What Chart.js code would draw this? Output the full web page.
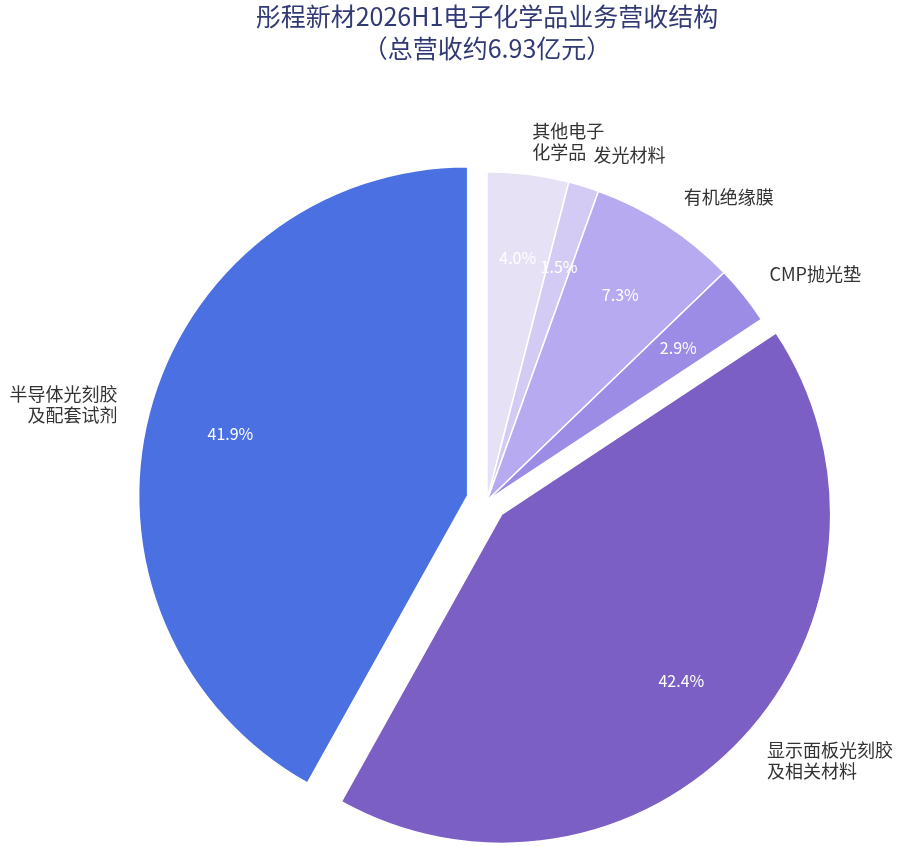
<!DOCTYPE html>
<html lang="zh-CN">
<head>
<meta charset="utf-8">
<title>彤程新材2026H1电子化学品业务营收结构</title>
<script src="https://cdn.jsdelivr.net/npm/chart.js@4.4.1/dist/chart.umd.min.js"></script>
<style>
    html, body { margin: 0; padding: 0; background: #ffffff; }
    #wrap { width: 902px; height: 846px; }
</style>
</head>
<body>
<div id="wrap"><canvas id="pieChart"></canvas></div>
<script>
// Kategoriler (saat yönünde, tepeden başlayarak)
const categories = ['其他电子\n化学品', '发光材料', '有机绝缘膜', 'CMP抛光垫', '显示面板光刻胶\n及相关材料', '半导体光刻胶\n及配套试剂'];
// 营收占比 (%)
const shares = [4.0, 1.5, 7.3, 2.9, 42.4, 41.9];
// Dışarı çekilen dilimler
const exploded = [false, false, false, false, true, true];
const sliceColors = ['#e6e1f5', '#d4cbf5', '#b8aaf0', '#9c8ce6', '#7b5fc4', '#4a70e2'];

const FONT = '"Noto Sans CJK SC", "Noto Sans", sans-serif';
const EXPLODE_PX = 20;

// Seçili dilimleri orta açıları boyunca kaydır
const explodePlugin = {
    id: 'explode',
    afterDatasetsUpdate(chart) {
        const meta = chart.getDatasetMeta(0);
        meta.data.forEach((arc, i) => {
            if (!exploded[i]) return;
            const mid = (arc.startAngle + arc.endAngle) / 2;
            arc.x += Math.cos(mid) * EXPLODE_PX;
            arc.y += Math.sin(mid) * EXPLODE_PX;
        });
    }
};

// Dış etiketler ve yüzde etiketleri
const labelPlugin = {
    id: 'sliceLabels',
    afterDatasetsDraw(chart) {
        const ctx = chart.ctx;
        const meta = chart.getDatasetMeta(0);
        ctx.save();
        meta.data.forEach((arc, i) => {
            const mid = (arc.startAngle + arc.endAngle) / 2;
            const r = arc.outerRadius;

            // kategori adı
            const lx = arc.x + Math.cos(mid) * r * 1.1;
            const ly = arc.y + Math.sin(mid) * r * 1.1;
            const lines = categories[i].split('\n');
            const step = 21;
            ctx.font = '18px ' + FONT;
            ctx.fillStyle = '#333333';
            ctx.textAlign = Math.cos(mid) >= 0 ? 'left' : 'right';
            ctx.textBaseline = 'middle';
            lines.forEach((t, k) => {
                ctx.fillText(t, lx, ly + (k - (lines.length - 1) / 2) * step);
            });

            // yüzde
            const px = arc.x + Math.cos(mid) * r * 0.745;
            const py = arc.y + Math.sin(mid) * r * 0.745;
            ctx.font = '16px ' + FONT;
            ctx.fillStyle = '#ffffff';
            ctx.textAlign = 'center';
            ctx.fillText(shares[i].toFixed(1) + '%', px, py);
        });
        ctx.restore();
    }
};

document.addEventListener('DOMContentLoaded', function() {
    const ctx = document.getElementById('pieChart');

    new Chart(ctx, {
        type: 'pie',
        data: {
            labels: categories,
            datasets: [{
                data: shares,
                backgroundColor: sliceColors,
                borderColor: '#ffffff',
                borderWidth: 1.5
            }]
        },
        options: {
            responsive: true,
            maintainAspectRatio: false,
            animation: false,
            events: [],
            layout: {
                padding: { left: 137, right: 65, top: 0, bottom: 15.5 }
            },
            plugins: {
                legend: { display: false },
                tooltip: { enabled: false },
                title: {
                    display: true,
                    text: ['彤程新材2026H1电子化学品业务营收结构', '（总营收约6.93亿元）'],
                    color: '#323a75',
                    font: { family: FONT, size: 25, weight: 'normal', lineHeight: 1.26 },
                    padding: { top: 1, bottom: 107 }
                }
            }
        },
        plugins: [explodePlugin, labelPlugin]
    });
});
</script>
</body>
</html>
